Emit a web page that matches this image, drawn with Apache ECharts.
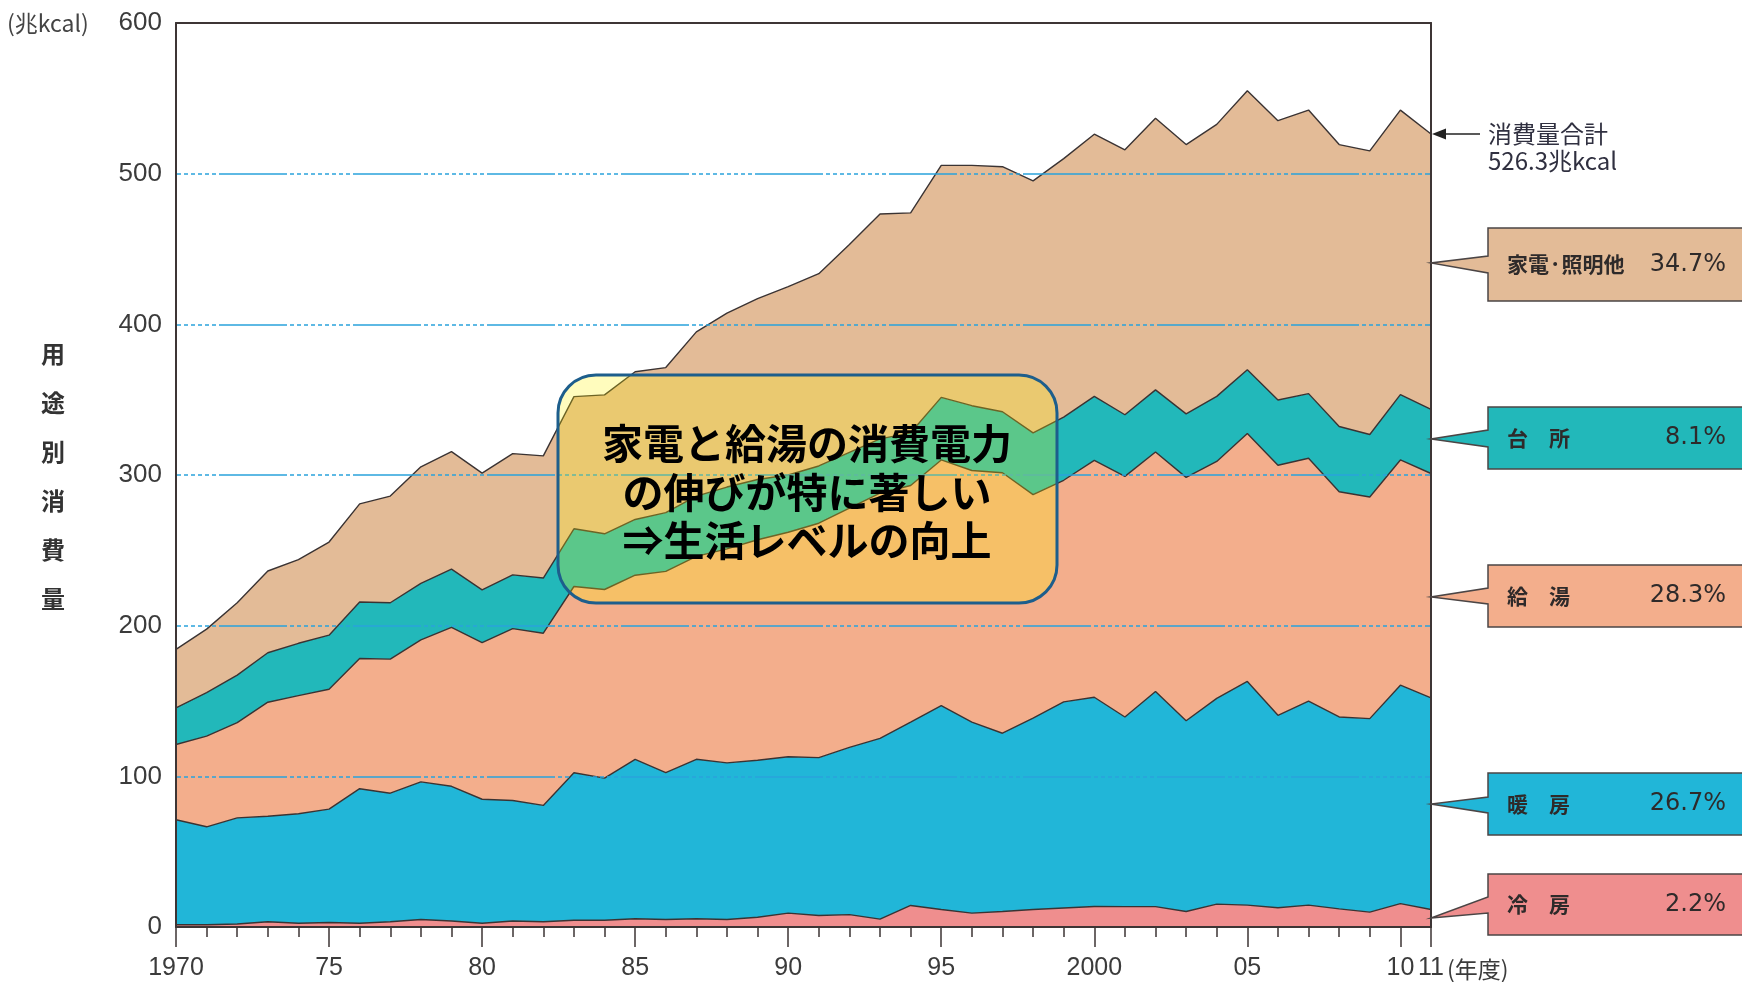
<!DOCTYPE html>
<html>
<head>
<meta charset="utf-8">
<script src="https://cdn.jsdelivr.net/npm/echarts@6/dist/echarts.min.js"></script>
<style>
  html, body { margin: 0; padding: 0; background: #ffffff; }
  #chart { width: 1742px; height: 982px; }
</style>
</head>
<body>
<div id="chart"></div>
<script>
// 家庭部門 用途別エネルギー消費量（兆kcal）
const years = ['1970','1971','1972','1973','1974','1975','1976','1977','1978','1979',
  '1980','1981','1982','1983','1984','1985','1986','1987','1988','1989',
  '1990','1991','1992','1993','1994','1995','1996','1997','1998','1999',
  '2000','2001','2002','2003','2004','2005','2006','2007','2008','2009',
  '2010','2011'];

// 冷房
const cooling = [1.5, 1.5, 2.0, 3.5, 2.5, 3.0, 2.5, 3.5, 5.0, 4.0,
  2.5, 4.0, 3.5, 4.5, 4.5, 5.5, 5.0, 5.5, 5.0, 6.5,
  9.2, 7.6, 8.2, 5.2, 14.3, 11.6, 9.2, 10.3, 11.6, 12.6,
  13.6, 13.5, 13.5, 10.3, 15.2, 14.5, 12.8, 14.5, 12.0, 9.9,
  15.5, 11.6];
// 暖房
const heating = [69.7, 65.0, 70.4, 70.0, 72.7, 75.2, 89.3, 85.3, 91.3, 89.4,
  82.3, 80.0, 77.2, 97.9, 94.3, 105.8, 97.4, 105.8, 103.9, 104.2,
  103.8, 104.8, 111.0, 120.0, 121.7, 135.4, 126.8, 118.3, 127.1, 136.8,
  138.9, 125.9, 142.8, 126.6, 136.5, 148.5, 127.7, 135.4, 127.4, 128.4,
  145.0, 140.5];
// 給湯
const hotWater = [49.9, 60.2, 63.2, 75.7, 78.4, 79.6, 86.4, 89.0, 94.3, 105.4,
  103.9, 114.0, 114.3, 123.6, 125.2, 122.2, 133.6, 134.7, 142.1, 146.3,
  149.0, 155.6, 158.8, 162.8, 157.0, 163.0, 167.0, 172.9, 148.3, 147.1,
  157.2, 159.7, 159.0, 161.5, 157.3, 164.6, 166.0, 161.2, 149.5, 147.1,
  149.5, 148.9];
// 台所
const kitchen = [24.3, 28.8, 31.6, 32.8, 34.7, 35.9, 37.5, 37.4, 37.5, 38.7,
  35.1, 35.7, 36.6, 38.3, 37.0, 37.0, 39.0, 40.0, 41.0, 40.0,
  38.0, 38.0, 37.0, 36.0, 35.0, 41.5, 43.0, 40.5, 41.0, 41.9,
  42.5, 40.9, 41.2, 42.2, 43.2, 42.2, 43.3, 42.9, 43.3, 41.5,
  43.3, 42.6];
// 家電・照明他
const appliances = [38.9, 42.2, 48.0, 54.3, 55.5, 61.8, 65.1, 70.8, 77.3, 78.0,
  77.4, 80.5, 81.1, 87.7, 92.2, 98.0, 96.3, 109.0, 115.5, 120.0,
  125.0, 127.6, 138.0, 149.2, 146.0, 154.0, 159.5, 162.6, 167.2, 171.6,
  174.0, 175.8, 180.3, 178.7, 180.5, 185.2, 185.4, 188.2, 187.1, 188.2,
  188.9, 182.7];

const yTicks = [0, 100, 200, 300, 400, 500, 600];

const seriesDefs = [
  { name: '冷房', short: '冷　房', data: cooling, color: '#ef8e8e' },
  { name: '暖房', short: '暖　房', data: heating, color: '#21b6d8' },
  { name: '給湯', short: '給　湯', data: hotWater, color: '#f3ae8c' },
  { name: '台所', short: '台　所', data: kitchen, color: '#22b8ba' },
  { name: '家電・照明他', short: '家電·照明他', data: appliances, color: '#e3bb97' }
];

const chart = echarts.init(document.getElementById('chart'), null, { renderer: 'canvas' });

const axisDark = '#3d3535';
const labelColor = '#3b3b3b';
const numFont = 'Liberation Sans';
const gridDash = [68, 3, 4, 3, 4, 3, 4, 3, 4, 3, 4, 3, 4, 3, 4, 3, 4, 3, 4, 3];
const majorTick = (i, v) => (+v % 5 === 0) || v === '2011';

chart.setOption({
  animation: false,
  backgroundColor: '#ffffff',
  grid: { left: 176, right: 311, top: 23, bottom: 55 },
  xAxis: [
    {
      type: 'category', data: years, boundaryGap: false, position: 'bottom', z: 10,
      axisLine: { show: true, lineStyle: { color: axisDark, width: 2 } },
      axisTick: { show: true, interval: 0, length: 10, lineStyle: { color: axisDark, width: 1.5 } },
      axisLabel: {
        show: true, margin: 29, color: labelColor, fontSize: 25, fontFamily: numFont,
        interval: majorTick,
        formatter: v => (v === '1970' || v === '2000') ? v : v.slice(2)
      },
      splitLine: { show: false }
    },
    {
      type: 'category', data: years, boundaryGap: false, position: 'bottom', z: 10,
      axisLine: { show: false },
      axisTick: { show: true, length: 20, interval: majorTick,
        lineStyle: { color: axisDark, width: 1.5 } },
      axisLabel: { show: false },
      splitLine: { show: false }
    },
    {
      type: 'category', data: years, boundaryGap: false, position: 'top', z: 10,
      axisLine: { show: true, onZero: false, lineStyle: { color: axisDark, width: 2 } },
      axisTick: { show: false }, axisLabel: { show: false }, splitLine: { show: false }
    }
  ],
  yAxis: [
    {
      type: 'value', min: yTicks[0], max: yTicks[yTicks.length - 1], interval: 100, z: 10,
      axisLine: { show: true, lineStyle: { color: axisDark, width: 2 } },
      axisTick: { show: false },
      axisLabel: { margin: 14, color: labelColor, fontSize: 26, fontFamily: numFont },
      splitLine: {
        show: true, showMinLine: false, showMaxLine: false,
        lineStyle: { color: '#2aa3dc', width: 1.5, type: gridDash, dashOffset: 91 }
      }
    },
    {
      type: 'value', min: yTicks[0], max: yTicks[yTicks.length - 1], position: 'right', z: 10,
      axisLine: { show: true, lineStyle: { color: axisDark, width: 2 } },
      axisTick: { show: false }, axisLabel: { show: false }, splitLine: { show: false }
    }
  ],
  series: seriesDefs.map(s => ({
    name: s.name,
    type: 'line',
    stack: 'total',
    data: s.data,
    xAxisIndex: 0,
    yAxisIndex: 0,
    symbol: 'none',
    z: 2,
    lineStyle: { color: '#3a3333', width: 1.4 },
    areaStyle: { color: s.color, opacity: 1 },
    itemStyle: { color: s.color }
  }))
});

// 2011年度の合計と構成比
const last = years.length - 1;
const total2011 = seriesDefs.reduce((a, s) => a + s.data[last], 0);
const pct = s => (s.data[last] / total2011 * 100).toFixed(1) + '%';
const totalPt = chart.convertToPixel({ xAxisIndex: 0, yAxisIndex: 0 }, [years[last], total2011]);
const edgeX = totalPt[0];

// 右側の吹き出し（下から 冷房・暖房・給湯・台所・家電）
const callouts = [
  { top: 874, bottom: 935, baseTop: 897, baseBottom: 913, tipY: 918 },
  { top: 773, bottom: 835, baseTop: 797, baseBottom: 813, tipY: 804 },
  { top: 565, bottom: 627, baseTop: 588, baseBottom: 604, tipY: 597 },
  { top: 407, bottom: 469, baseTop: 430, baseBottom: 447, tipY: 439 },
  { top: 228, bottom: 301, baseTop: 256, baseBottom: 273, tipY: 263 }
];
const boxLeft = 1488, boxRight = 1770;

const graphics = [];
callouts.forEach((c, i) => {
  const s = seriesDefs[i];
  const midY = (c.top + c.bottom) / 2;
  graphics.push({
    type: 'polygon', z: 20,
    shape: { points: [[boxLeft, c.top], [boxRight, c.top], [boxRight, c.bottom], [boxLeft, c.bottom],
      [boxLeft, c.baseBottom], [edgeX, c.tipY], [boxLeft, c.baseTop]] },
    style: { fill: s.color, stroke: '#4b4545', lineWidth: 1.5 }
  });
  graphics.push({
    type: 'text', z: 21, x: 1507, y: midY,
    style: { text: s.short, fill: '#2e2a2a', font: 'bold 21px "Noto Sans CJK JP"',
      textAlign: 'left', textVerticalAlign: 'middle' }
  });
  graphics.push({
    type: 'text', z: 21, x: 1726, y: midY,
    style: { text: pct(s), fill: '#2e2a2a', font: '24px "DejaVu Sans"',
      textAlign: 'right', textVerticalAlign: 'middle' }
  });
});

// 消費量合計の矢印
graphics.push({
  type: 'line', z: 20,
  shape: { x1: edgeX + 12, y1: totalPt[1], x2: 1480, y2: totalPt[1] },
  style: { stroke: '#222222', lineWidth: 1.6 }
});
graphics.push({
  type: 'polygon', z: 20,
  shape: { points: [[edgeX + 1, totalPt[1]], [edgeX + 15, totalPt[1] - 5.5], [edgeX + 15, totalPt[1] + 5.5]] },
  style: { fill: '#222222' }
});
graphics.push({
  type: 'text', z: 21, x: 1488, y: totalPt[1],
  style: { text: '消費量合計', fill: '#303040', font: '24px "Noto Sans CJK JP"',
    textAlign: 'left', textVerticalAlign: 'middle' }
});
graphics.push({
  type: 'text', z: 21, x: 1488, y: totalPt[1] + 27,
  style: { text: total2011.toFixed(1) + '兆kcal', fill: '#303040', font: '24px "Noto Sans CJK JP"',
    textAlign: 'left', textVerticalAlign: 'middle' }
});

// 軸の単位と縦書きの軸名
graphics.push({
  type: 'text', z: 21, x: 7, y: 23,
  style: { text: '(兆kcal)', fill: '#444444', font: '23px "Noto Sans CJK JP"',
    textAlign: 'left', textVerticalAlign: 'middle' }
});
graphics.push({
  type: 'text', z: 21, x: 53, y: 329,
  style: { text: '用\n途\n別\n消\n費\n量', fill: '#333333', font: 'bold 24px "Noto Sans CJK JP"',
    lineHeight: 49, textAlign: 'center', textVerticalAlign: 'top' }
});
graphics.push({
  type: 'text', z: 21, x: 1447, y: 969,
  style: { text: '(年度)', fill: '#3b3b3b', font: '23px "Noto Sans CJK JP"',
    textAlign: 'left', textVerticalAlign: 'middle' }
});

// 注記ボックス
graphics.push({
  type: 'rect', z: 30,
  shape: { x: 558, y: 375, width: 499, height: 228, r: 38 },
  style: { fill: 'rgba(255,245,0,0.26)', stroke: '#1d5e8c', lineWidth: 3 }
});
graphics.push({
  type: 'text', z: 31, x: 807, y: 492,
  style: { text: '家電と給湯の消費電力\nの伸びが特に著しい\n⇒生活レベルの向上',
    fill: '#000000', font: 'bold 41px "Noto Sans CJK JP"', lineHeight: 48.5,
    textAlign: 'center', textVerticalAlign: 'middle' }
});

chart.setOption({ graphic: graphics });
</script>
</body>
</html>
